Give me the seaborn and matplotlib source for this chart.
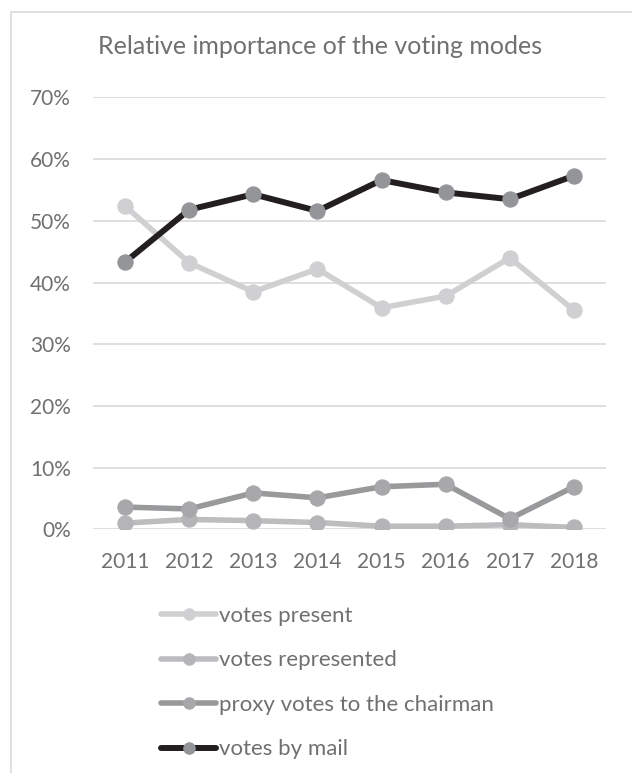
import matplotlib
matplotlib.use("Agg")
import matplotlib.pyplot as plt
import matplotlib.patches as mpatches
import seaborn as sns
import pandas as pd

years = [2011, 2012, 2013, 2014, 2015, 2016, 2017, 2018]
votes_present = [52.4, 43.2, 38.5, 42.2, 35.9, 37.8, 44.0, 35.5]
votes_represented = [1.0, 1.6, 1.4, 1.1, 0.5, 0.5, 0.75, 0.3]
proxy_votes = [3.6, 3.3, 5.9, 5.1, 6.9, 7.3, 1.7, 6.9]
votes_by_mail = [43.3, 51.8, 54.3, 51.6, 56.6, 54.6, 53.5, 57.3]
series_names = ["votes present", "votes represented",
                "proxy votes to the chairman", "votes by mail"]
y_ticks = [0, 10, 20, 30, 40, 50, 60, 70]
title = "Relative importance of the voting modes"

line_colors = ["#d0d0d2", "#bdbdc0", "#98999b", "#231f20"]
marker_colors = ["#d0d0d2", "#b5b5b8", "#a8a8ab", "#939598"]
line_widths = [4.0, 4.0, 4.0, 4.3]

sns.set_theme(style="white")
plt.rcParams["font.family"] = ["Lato", "DejaVu Sans"]
txt = "#707070"

fig = plt.figure(figsize=(6.32, 7.73), dpi=100)
ax = fig.add_axes([93 / 632, 1 - 529.3 / 773, (606 - 93) / 632, (529.3 - 97.4) / 773])

values = [votes_present, votes_represented, proxy_votes, votes_by_mail]
for name, vals, lc, mc, lw in zip(series_names, values, line_colors, marker_colors, line_widths):
    df = pd.DataFrame({"year": years, "value": vals})
    sns.lineplot(data=df, x="year", y="value", ax=ax, color=lc, linewidth=lw,
                 marker="o", markersize=11, markerfacecolor=mc, markeredgecolor=mc,
                 label=name)

ax.set_xlim(2010.5, 2018.5)
ax.set_ylim(0, 70)
ax.set_yticks(y_ticks)
ax.set_yticklabels([f"{v}%" for v in y_ticks])
ax.set_xticks(years)
ax.set_xticklabels([str(y) for y in years])
ax.grid(axis="y", color="#d9d9d9", linewidth=1.2)
ax.set_axisbelow(True)
for s in ax.spines.values():
    s.set_visible(False)
ax.tick_params(axis="both", length=0, labelsize=15, colors=txt)
ax.tick_params(axis="y", pad=16)
ax.tick_params(axis="x", pad=16)
ax.set_xlabel("")
ax.set_ylabel("")

fig.text(0.507, 1 - 47 / 773, title, ha="center", va="center", fontsize=18, color=txt)

leg = ax.legend(loc="upper left", bbox_to_anchor=(161 / 632, 1 - 606 / 773),
                bbox_transform=fig.transFigure, frameon=False, fontsize=16,
                handlelength=2.48, handletextpad=0.15, labelspacing=1.1,
                borderaxespad=0, borderpad=0, markerscale=0.75)
for t in leg.get_texts():
    t.set_color(txt)

rect = mpatches.Rectangle((11 / 632, -0.02), 1.0, 1 - 12 / 773 + 0.02,
                          transform=fig.transFigure, fill=False,
                          edgecolor="#d9d9d9", linewidth=1.2)
fig.patches.append(rect)

fig.savefig("out.png", dpi=100)
